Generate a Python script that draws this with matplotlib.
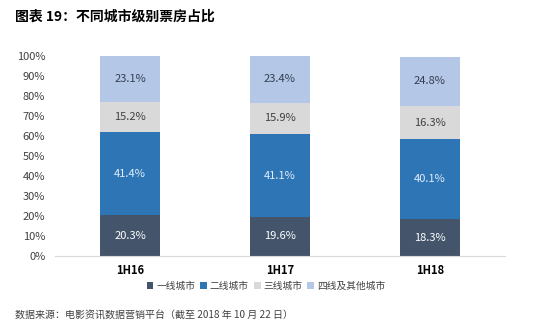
import matplotlib
matplotlib.use('Agg')
import matplotlib.pyplot as plt
import numpy as np

plt.rcParams['font.family'] = ['Noto Sans CJK SC', 'DejaVu Sans']

# share of box office by city tier (%)
periods = ['1H16', '1H17', '1H18']
tiers = ['一线城市', '二线城市', '三线城市', '四线及其他城市']
tier1 = [20.3, 19.6, 18.3]
tier2 = [41.4, 41.1, 40.1]
tier3 = [15.2, 15.9, 16.3]
tier4 = [23.1, 23.4, 24.8]

colors = ['#44546A', '#2E75B6', '#D9D9D9', '#B4C7E7']
text_colors = ['#FFFFFF', '#E2EEFA', '#404040', '#333F50']

fig = plt.figure(figsize=(5.5, 3.33), dpi=100)
ax = fig.add_axes([0.1, 0.231, 0.818, 0.602])

x = np.arange(len(periods))
bottom = np.zeros(len(periods))
for vals, name, c, tc in zip([tier1, tier2, tier3, tier4], tiers, colors, text_colors):
    vals = np.array(vals)
    ax.bar(x, vals, 0.4, bottom=bottom, color=c, label=name)
    for xi, v, b in zip(x, vals, bottom):
        ax.text(xi, b + v / 2, f'{v:.1f}%', ha='center', va='center',
                fontsize=8, color=tc)
    bottom += vals

ax.set_xlim(-0.5, 2.5)
ax.set_ylim(0, 100)
ax.set_yticks(np.arange(0, 101, 10))
ax.set_yticklabels([f'{t}%' for t in range(0, 101, 10)], fontsize=8, color='#404040')
ax.set_xticks(x)
ax.set_xticklabels(periods, fontsize=8, fontweight='bold', color='#000000')
ax.tick_params(axis='both', length=0)
ax.tick_params(axis='x', pad=6)
ax.tick_params(axis='y', pad=7)
for s in ['top', 'right', 'left']:
    ax.spines[s].set_visible(False)
ax.spines['bottom'].set_color('#D9D9D9')

fig.legend(loc='center', bbox_to_anchor=(266 / 550, 1 - 286 / 333), ncol=4,
           frameon=False, fontsize=7, handlelength=0.7, handleheight=0.7,
           handletextpad=0.3, columnspacing=0.5, labelcolor='#404040')

fig.text(15 / 550, 1 - 17 / 333, '图表 19：不同城市级别票房占比', fontsize=10,
         fontweight='bold', va='center', ha='left')
fig.text(15 / 550, 1 - 316 / 333, '数据来源：电影资讯数据营销平台（截至 2018 年 10 月 22 日）',
         fontsize=7.2, va='center', ha='left', color='#404040')

fig.savefig('out.png', dpi=100)
